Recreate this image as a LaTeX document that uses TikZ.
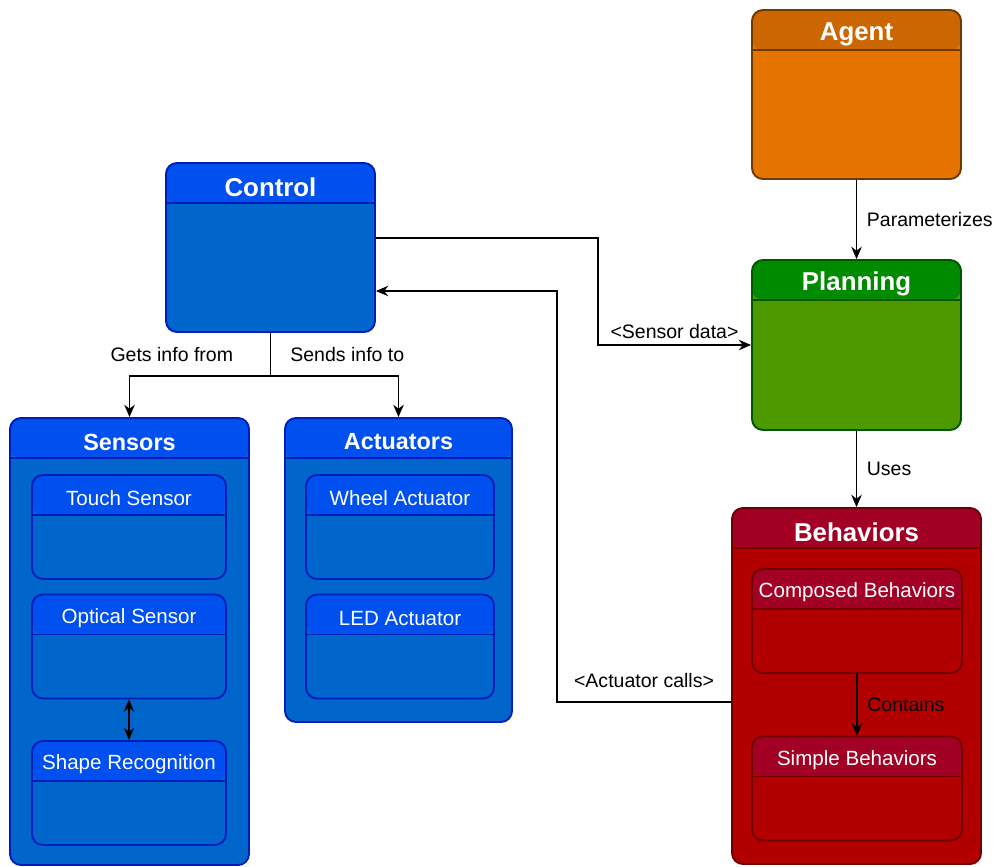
\documentclass[tikz,border=0pt]{standalone}
\usepackage{fontspec}
\setmainfont{Liberation Sans}
\usetikzlibrary{arrows.meta}

\definecolor{AgentHead}{HTML}{CC6600}
\definecolor{AgentBody}{HTML}{E57300}
\definecolor{AgentLine}{HTML}{6D3B00}
\definecolor{BlueHead}{HTML}{0050EF}
\definecolor{BlueBody}{HTML}{0066CC}
\definecolor{BlueLine}{HTML}{001DBC}
\definecolor{GreenHead}{HTML}{008A00}
\definecolor{GreenBody}{HTML}{4D9900}
\definecolor{GreenLine}{HTML}{005700}
\definecolor{RedHead}{HTML}{A20025}
\definecolor{RedBody}{HTML}{B20000}
\definecolor{RedLine}{HTML}{6F0000}

\begin{document}
\begin{tikzpicture}
[
Lane/.style n args={3}{rectangle, rounded corners=0.22cm, draw=#3, fill=#2, line width=1.1pt,
  path picture={
    \fill[#1] (path picture bounding box.north west) rectangle ([yshift=-0.8cm]path picture bounding box.north east);
    \draw[#3, line width=1.1pt] ([yshift=-0.8cm]path picture bounding box.north west) -- ([yshift=-0.8cm]path picture bounding box.north east);
  }},
Title/.style={anchor=center, yshift=-0.5cm, text=white, font=\fontsize{14.7}{17}\selectfont\bfseries},
GroupTitle/.style={anchor=center, yshift=-0.5cm, text=white, font=\fontsize{13.3}{15}\selectfont\bfseries},
SubTitle/.style={anchor=center, yshift=-0.49cm, text=white, font=\fontsize{11.7}{14}\selectfont},
Line/.style={draw=black, line width=0.6pt},
Edge/.style={Line, -{Stealth[length=7pt, width=6pt]}},
EdgeLabel/.style={font=\fontsize{11.1}{13}\selectfont, text=black},
]

\useasboundingbox (0,0) rectangle (19.9,-17.32);

% top level blocks
\node[Lane={AgentHead}{AgentBody}{AgentLine}, minimum width=4.18cm, minimum height=3.38cm,
  label={[Title]north:Agent}] (agent) at (17.13,-1.89) {};
\node[Lane={BlueHead}{BlueBody}{BlueLine}, minimum width=4.18cm, minimum height=3.38cm,
  label={[Title]north:Control}] (control) at (5.41,-4.95) {};
\node[Lane={GreenHead}{GreenBody}{GreenLine}, minimum width=4.18cm, minimum height=3.4cm,
  label={[Title]north:Planning}] (planning) at (17.13,-6.9) {};
\node[Lane={BlueHead}{BlueBody}{BlueLine}, minimum width=4.78cm, minimum height=8.94cm,
  label={[GroupTitle]north:Sensors}] (sensors) at (2.59,-12.83) {};
\node[Lane={BlueHead}{BlueBody}{BlueLine}, minimum width=4.54cm, minimum height=6.08cm,
  label={[GroupTitle]north:Actuators}] (actuators) at (7.97,-11.4) {};
\node[Lane={RedHead}{RedBody}{RedLine}, minimum width=4.98cm, minimum height=7.12cm,
  label={[Title]north:Behaviors}] (behaviors) at (17.13,-13.72) {};

% inner blocks
\node[Lane={BlueHead}{BlueBody}{BlueLine}, minimum width=3.88cm, minimum height=2.08cm,
  label={[SubTitle]north:Touch Sensor}] (touch) at (2.58,-10.54) {};
\node[Lane={BlueHead}{BlueBody}{BlueLine}, minimum width=3.88cm, minimum height=2.08cm,
  label={[SubTitle]north:Optical Sensor}] (optical) at (2.58,-12.93) {};
\node[Lane={BlueHead}{BlueBody}{BlueLine}, minimum width=3.88cm, minimum height=2.08cm,
  label={[SubTitle]north:Shape Recognition}] (shape) at (2.58,-15.86) {};
\node[Lane={BlueHead}{BlueBody}{BlueLine}, minimum width=3.76cm, minimum height=2.08cm,
  label={[SubTitle]north:Wheel Actuator}] (wheel) at (8.0,-10.54) {};
\node[Lane={BlueHead}{BlueBody}{BlueLine}, minimum width=3.76cm, minimum height=2.08cm,
  label={[SubTitle]north:LED Actuator}] (led) at (8.0,-12.93) {};
\node[Lane={RedHead}{RedBody}{RedLine}, minimum width=4.2cm, minimum height=2.08cm,
  label={[SubTitle]north:Composed Behaviors}] (composed) at (17.14,-12.42) {};
\node[Lane={RedHead}{RedBody}{RedLine}, minimum width=4.2cm, minimum height=2.08cm,
  label={[SubTitle]north:Simple Behaviors}] (simple) at (17.14,-15.77) {};

% bends
\coordinate (split) at (5.41,-7.52);
\coordinate (sdbend) at (11.96,-4.76);
\coordinate (acbend) at (11.14,-14.04);
\coordinate (actop) at (11.14,-5.82);

% connectors
\draw[Edge] (agent) -- node[EdgeLabel, right=0.08cm]{Parameterizes} (planning);
\draw[Edge] (planning) -- node[EdgeLabel, right=0.08cm]{Uses} (behaviors);
\draw[Edge] (composed) -- node[EdgeLabel, right=0.08cm]{Contains} (simple);
\draw[Line, {Stealth[length=7pt, width=6pt]}-{Stealth[length=7pt, width=6pt]}] (optical) -- (shape);

\draw[Line] (control) -- (split);
\draw[Edge] (split) -| node[EdgeLabel, above=0.15cm, pos=0.35]{Gets info from} (sensors);
\draw[Edge] (split) -| node[EdgeLabel, above=0.15cm, pos=0.3]{Sends info to} (actuators);

\draw[Edge] (sdbend -| control.east) -- (sdbend) |- node[EdgeLabel, above, pos=0.75]{<Sensor data>} (planning.west);
\draw[Edge] (acbend -| behaviors.west) -- node[EdgeLabel, above=0.15cm]{<Actuator calls>} (acbend) -- (actop) -- (actop -| control.east);

\end{tikzpicture}
\end{document}
